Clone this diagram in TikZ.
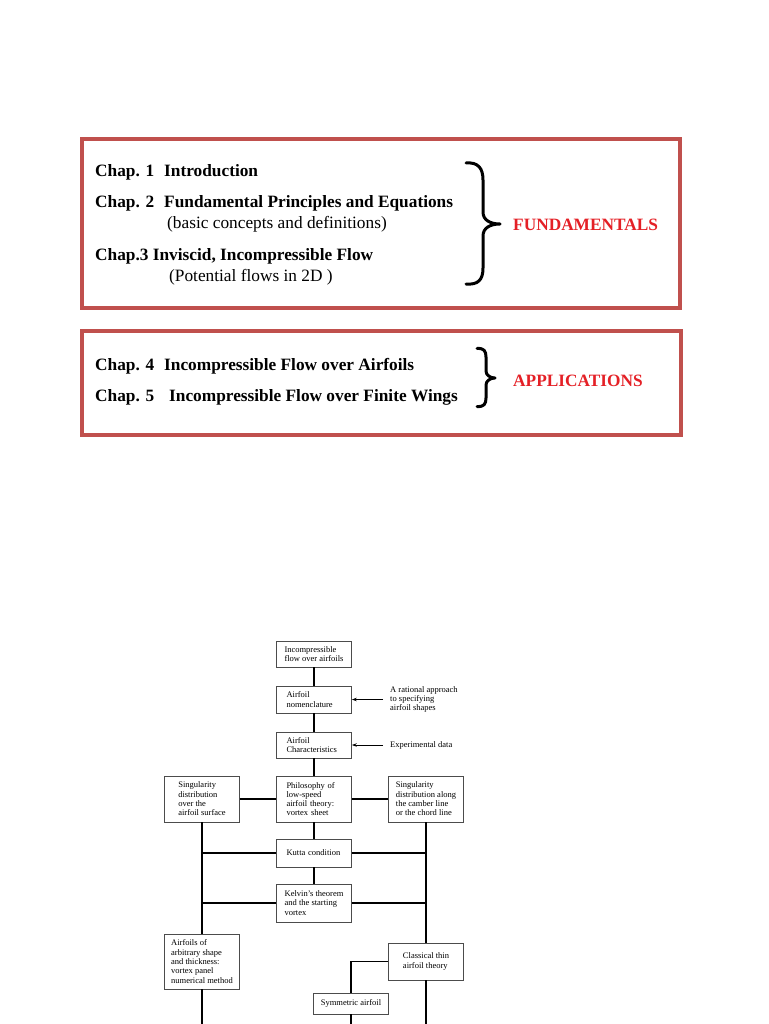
\documentclass[tikz,border=0pt]{standalone}
\usepackage{fontspec}
\setmainfont{Liberation Serif}
\usetikzlibrary{arrows.meta}
\definecolor{framered}{RGB}{192,80,77}
\definecolor{labelred}{RGB}{228,32,38}

\begin{document}
\begin{tikzpicture}[x=1pt,y=-1pt,
    chap/.style={anchor=base west,inner sep=0pt,font=\fontsize{17.3}{20}\selectfont\bfseries},
    remark/.style={anchor=base west,inner sep=0pt,font=\fontsize{17.3}{20}\selectfont},
    partlabel/.style={anchor=base west,inner sep=0pt,text=labelred,font=\fontsize{17.3}{20}\selectfont\bfseries},
    chapframe/.style={draw=framered,line width=4.5pt},
    curly/.style={line width=3pt,line cap=round,line join=round},
    fbox/.style={draw=black!70,line width=0.7pt,minimum width=75pt,inner sep=0pt,align=left,font=\fontsize{8.5}{9.3}\selectfont},
    ann/.style={anchor=west,inner xsep=7pt,inner ysep=0pt,align=left,font=\fontsize{8.5}{9.3}\selectfont},
    flowline/.style={line width=1.8pt},
    feed/.style={line width=0.7pt,-{Stealth[length=5pt,width=3.5pt]}}]
  % page size, pixel coordinates (y down)
  \useasboundingbox (0,0) rectangle (768,1024);

  % chapter frames
  \draw[chapframe] (82,139) rectangle (680,308);
  \draw[chapframe] (82,331) rectangle (681,435);

  % fundamentals
  \node[chap] (c1) at (95,177) {Chap. 1};
  \node[chap] (c1t) at (164,177) {Introduction};
  \node[chap] (c2) at (95,208) {Chap. 2};
  \node[chap] (c2t) at (164,208) {Fundamental Principles and Equations};
  \node[remark] (c2n) at (167,229) {(basic concepts and definitions)};
  \node[chap] (c3) at (95,260) {Chap.3 Inviscid, Incompressible Flow};
  \node[remark] (c3n) at (169,281) {(Potential flows in 2D )};
  % brace: arm, spine, tip, spine, arm
  \draw[curly] (466,163) .. controls (478,162) and (483,168) .. (483,180) -- (483,212)
    .. controls (483,220) and (490,224) .. (500,224)
    .. controls (490,224) and (483,228) .. (483,236) -- (483,268)
    .. controls (483,280) and (478,285) .. (466,284);
  \node[partlabel] (fund) at (513,230) {FUNDAMENTALS};

  % applications
  \node[chap] (c4) at (95,370) {Chap. 4};
  \node[chap] (c4t) at (164,370) {Incompressible Flow over Airfoils};
  \node[chap] (c5) at (95,401) {Chap. 5};
  \node[chap] (c5t) at (169,401) {Incompressible Flow over Finite Wings};
  \draw[curly] (477,348.5) .. controls (484,348) and (486,351) .. (486,357) -- (486,371)
    .. controls (486,375) and (490,378) .. (495,378)
    .. controls (490,378) and (486,381) .. (486,385) -- (486,398)
    .. controls (486,404) and (484,407) .. (477,406.5);
  \node[partlabel] (appl) at (513,386) {APPLICATIONS};

  % road map of chapter 4
  \node[fbox,minimum height=26pt] (inc) at (314,654) {Incompressible\\flow over airfoils};
  \node[fbox,minimum height=27pt,text width=55pt] (nom) at (314,699.5) {Airfoil\\nomenclature};
  \node[fbox,minimum height=26pt,text width=55pt] (chr) at (314,745) {Airfoil\\Characteristics};
  \node[fbox,minimum height=46pt,text width=55pt] (phi) at (314,799) {Philosophy of\\low-speed\\airfoil theory:\\vortex sheet};
  \node[fbox,minimum height=46pt] (sgl) at (202,799) {Singularity\\distribution\\over the\\airfoil surface};
  \node[fbox,minimum height=46pt] (sgr) at (426,799) {Singularity\\distribution along\\the camber line\\or the chord line};
  \node[fbox,minimum height=28pt,text width=55pt] (kut) at (314,853) {Kutta condition};
  \node[fbox,minimum height=38pt] (kel) at (314,903) {Kelvin's theorem\\and the starting\\vortex};
  \node[fbox,minimum height=55pt] (arb) at (202,961.5) {Airfoils of\\arbitrary shape\\and thickness:\\vortex panel\\numerical method};
  \node[fbox,minimum height=37pt] (cls) at (426,961.5) {Classical thin\\airfoil theory};
  \node[fbox,minimum height=21pt] (sym) at (351,1003.5) {Symmetric airfoil};
  \node[ann] (rat) at (383,699.5) {A rational approach\\to specifying\\airfoil shapes};
  \node[ann] (exp) at (383,745) {Experimental data};
  \coordinate (bot) at (0,1024);

  % connectors
  \draw[flowline] (inc) -- (nom);
  \draw[flowline] (nom) -- (chr);
  \draw[flowline] (chr) -- (phi);
  \draw[flowline] (phi) -- (kut);
  \draw[flowline] (kut) -- (kel);
  \draw[flowline] (sgl) -- (phi);
  \draw[flowline] (phi) -- (sgr);
  \draw[flowline] (sgl) -- (arb);
  \draw[flowline] (sgr) -- (cls);
  \draw[flowline] (kut.west) -- (kut.west -| sgl.south);
  \draw[flowline] (kel.west) -- (kel.west -| sgl.south);
  \draw[flowline] (kut.east) -- (kut.east -| sgr.south);
  \draw[flowline] (kel.east) -- (kel.east -| sgr.south);
  \draw[flowline] (cls.west) -| (sym.north);
  \draw[flowline] (arb.south) -- (arb.south |- bot);
  \draw[flowline] (sym.south) -- (sym.south |- bot);
  \draw[flowline] (cls.south) -- (cls.south |- bot);
  \draw[feed] (rat.west) -- (rat.west -| nom.east);
  \draw[feed] (exp.west) -- (exp.west -| chr.east);
\end{tikzpicture}
\end{document}
